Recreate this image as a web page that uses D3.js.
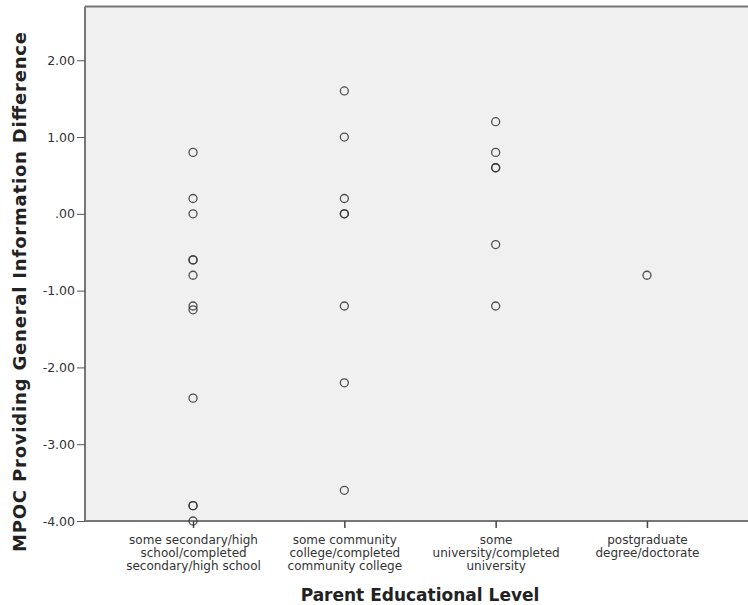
<!DOCTYPE html>
<html>
<head>
<meta charset="utf-8">
<script src="https://cdn.jsdelivr.net/npm/d3@7"></script>
<style>
	body { margin: 0; background: #fff; }
	svg { display: block; font-family: "DejaVu Sans", sans-serif; }
</style>
</head>
<body>
<svg id="chart"></svg>
<script>
// categories (each label split in lines)
const categories = [
	["some secondary/high", "school/completed", "secondary/high school"],
	["some community", "college/completed", "community college"],
	["some", "university/completed", "university"],
	["postgraduate", "degree/doctorate"]
];

// values per category (repeated values are overlapping cases)
const secondary = [0.8, 0.2, 0.0, -0.6, -0.6, -0.8, -1.2, -1.25, -2.4, -3.8, -3.8, -4.0];
const community = [1.6, 1.0, 0.2, 0.0, 0.0, -1.2, -2.2, -3.6];
const university = [1.2, 0.8, 0.6, 0.6, -0.4, -1.2];
const postgrad = [-0.8];

const yTicks = [2, 1, 0, -1, -2, -3, -4];
const xTitle = "Parent Educational Level";
const yTitle = "MPOC Providing General Information Difference";

const width = 748;
const height = 605;
const margin = { top: 6.5, right: 0, bottom: 84, left: 85 };

const series = [secondary, community, university, postgrad];
const points = series.flatMap((vals, i) => vals.map(v => ({ cat: i, value: v })));

const svg = d3.select("#chart")
	.attr("width", width)
	.attr("height", height);

const xScale = d3.scalePoint()
	.domain(d3.range(categories.length))
	.range([margin.left, 755])
	.padding(0.714);

const yScale = d3.scaleLinear()
	.domain([-4, 2.7])
	.range([height - margin.bottom, margin.top]);

// plot background
svg.append("rect")
	.attr("x", margin.left)
	.attr("y", margin.top)
	.attr("width", width - margin.left)
	.attr("height", yScale(-4) - margin.top)
	.attr("fill", "#f0f0f0");

// top border
svg.append("line")
	.attr("x1", margin.left).attr("x2", width)
	.attr("y1", margin.top).attr("y2", margin.top)
	.attr("stroke", "#777").attr("stroke-width", 2);

const fmt = d3.formatLocale({ decimal: ".", thousands: ",", grouping: [3], currency: ["", ""], minus: "-" }).format(".2f");

// y axis
const yAxis = d3.axisLeft(yScale)
	.tickValues(yTicks)
	.tickSize(8)
	.tickPadding(2)
	.tickFormat(v => v === 0 ? ".00" : fmt(v));

svg.append("g")
	.attr("transform", `translate(${margin.left}, 0)`)
	.call(yAxis)
	.call(g => g.select(".domain").attr("stroke", "#777").attr("stroke-width", 2)
		.attr("d", `M0,${margin.top}V${yScale(-4)}`))
	.call(g => g.selectAll(".tick line").attr("stroke", "#555"))
	.call(g => g.selectAll(".tick text")
		.attr("fill", "#333")
		.style("font-family", "'DejaVu Sans', sans-serif")
		.style("font-size", "12.5px"));

// x axis
const xAxis = d3.axisBottom(xScale).tickSize(7).tickSizeOuter(0).tickFormat("");

const xg = svg.append("g")
	.attr("transform", `translate(0, ${yScale(-4)})`)
	.call(xAxis)
	.call(g => g.select(".domain").attr("stroke", "#777").attr("stroke-width", 2)
		.attr("d", `M${margin.left},0H${width}`))
	.call(g => g.selectAll(".tick line").attr("stroke", "#444").attr("stroke-width", 1.5));

xg.selectAll(".tick")
	.append("text")
	.attr("fill", "#333")
	.attr("text-anchor", "middle")
	.style("font-family", "'DejaVu Sans', sans-serif")
	.style("font-size", "12px")
	.selectAll("tspan")
	.data(d => categories[d])
	.join("tspan")
	.attr("x", 0)
	.attr("y", (d, i) => 23 + i * 13.2)
	.text(d => d);

// points
svg.append("g")
	.selectAll("circle")
	.data(points)
	.join("circle")
	.attr("cx", d => xScale(d.cat))
	.attr("cy", d => yScale(d.value))
	.attr("r", 4)
	.attr("fill", "none")
	.attr("stroke", "#333")
	.attr("stroke-width", 1.3)
	.attr("stroke-opacity", 0.85);

// axis titles
svg.append("text")
	.attr("x", (xScale(0) + xScale(categories.length - 1)) / 2)
	.attr("y", 601)
	.attr("text-anchor", "middle")
	.attr("fill", "#222")
	.style("font-weight", "bold")
	.style("font-size", "17px")
	.text(xTitle);

svg.append("text")
	.attr("transform", `translate(26, 292) rotate(-90)`)
	.attr("text-anchor", "middle")
	.attr("fill", "#222")
	.attr("textLength", 520)
	.attr("lengthAdjust", "spacing")
	.style("font-weight", "bold")
	.style("font-size", "18px")
	.text(yTitle);
</script>
</body>
</html>
